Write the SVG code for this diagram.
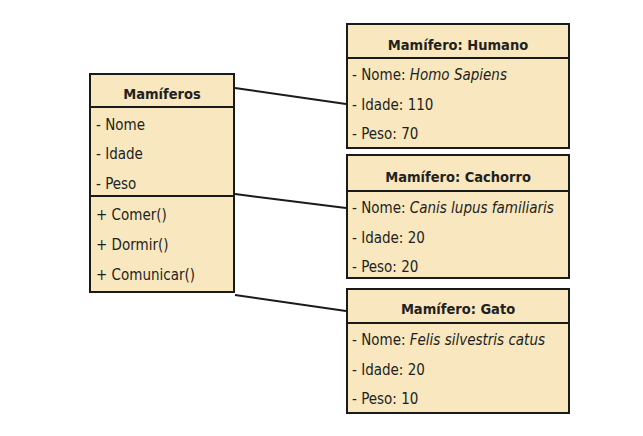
<svg xmlns="http://www.w3.org/2000/svg" width="643" height="436" viewBox="0 0 643 436">
<style>
.box{fill:#f8e7bf;stroke:#1a1a1a;stroke-width:2}
.div{stroke:#1a1a1a;stroke-width:2}
text{font-family:"DejaVu Sans Condensed","DejaVu Sans",sans-serif;font-stretch:condensed;font-size:15px;fill:#231f20}
.t{font-weight:bold;text-anchor:middle;font-size:14.5px}
.i{font-style:italic}
.c{stroke:#1a1a1a;stroke-width:2;fill:none}
</style>
<rect width="643" height="436" fill="#fff"/>
<g id="connectors">
<line class="c" x1="235" y1="88" x2="346" y2="104"/>
<line class="c" x1="235" y1="194" x2="346" y2="208"/>
<line class="c" x1="235" y1="295" x2="346" y2="311"/>
</g>
<g id="mamiferos">
<rect class="box" x="90" y="74" width="144" height="218"/>
<line class="div" x1="90" y1="107" x2="234" y2="107"/>
<line class="div" x1="90" y1="196" x2="234" y2="196"/>
<text class="t" x="162" y="99">Mamíferos</text>
<text x="96" y="130">- Nome</text>
<text x="96" y="159">- Idade</text>
<text x="96" y="189">- Peso</text>
<text x="96" y="220">+ Comer()</text>
<text x="96" y="250">+ Dormir()</text>
<text x="96" y="280">+ Comunicar()</text>
</g>
<g id="humano">
<rect class="box" x="347" y="24" width="222" height="124"/>
<line class="div" x1="347" y1="58" x2="569" y2="58"/>
<text class="t" x="458" y="50">Mamífero: Humano</text>
<text x="352" y="80">- Nome: <tspan class="i">Homo Sapiens</tspan></text>
<text x="352" y="110">- Idade: 110</text>
<text x="352" y="139">- Peso: 70</text>
</g>
<g id="cachorro">
<rect class="box" x="347" y="155" width="222" height="123"/>
<line class="div" x1="347" y1="191" x2="569" y2="191"/>
<text class="t" x="458" y="182">Mamífero: Cachorro</text>
<text x="352" y="213">- Nome: <tspan class="i">Canis lupus familiaris</tspan></text>
<text x="352" y="243">- Idade: 20</text>
<text x="352" y="272">- Peso: 20</text>
</g>
<g id="gato">
<rect class="box" x="347" y="289" width="222" height="124"/>
<line class="div" x1="347" y1="323" x2="569" y2="323"/>
<text class="t" x="458" y="314">Mamífero: Gato</text>
<text x="352" y="345">- Nome: <tspan class="i">Felis silvestris catus</tspan></text>
<text x="352" y="375">- Idade: 20</text>
<text x="352" y="404">- Peso: 10</text>
</g>
</svg>
